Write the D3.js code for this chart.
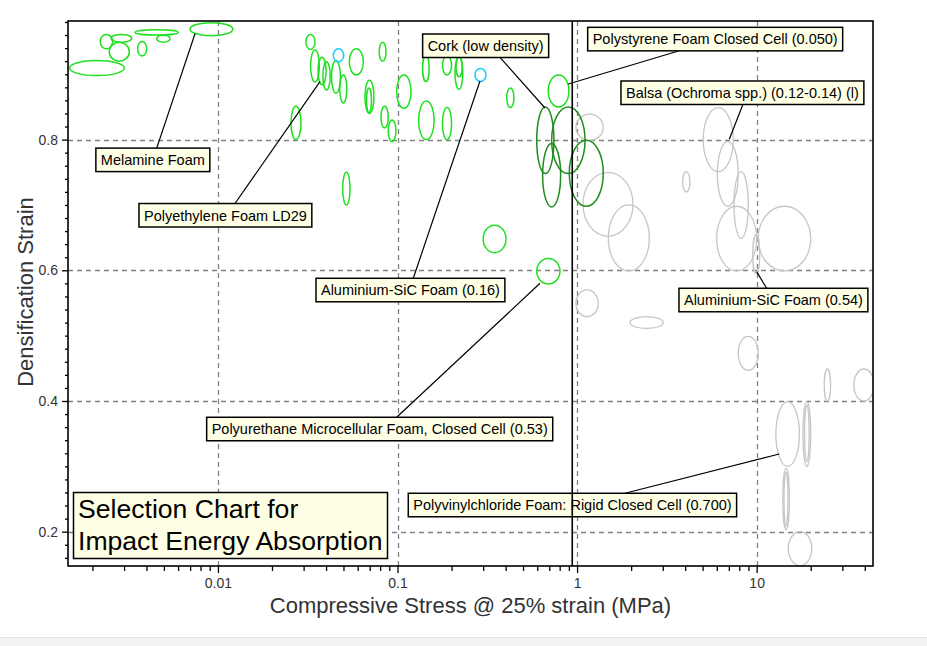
<!DOCTYPE html>
<html><head><meta charset="utf-8">
<script src="https://cdn.jsdelivr.net/npm/d3@7"></script>
<style>
html,body{margin:0;padding:0;background:#fff;overflow:hidden;}
svg{display:block;font-family:"Liberation Sans",Arial,sans-serif;}
</style></head><body>
<svg id="c" width="927" height="646"></svg>
<script>
// ---------- DATA ----------
const xTickValues = [0.01, 0.1, 1, 10];
const xTickLabels = ["0.01", "0.1", "1", "10"];
const yTickValues = [0.2, 0.4, 0.6, 0.8];
const yTickLabels = ["0.2", "0.4", "0.6", "0.8"];
const xDomain = [0.001462, 44.46];
const yDomain = [0.1475, 0.9815];
const selectionStress = 0.94;
const xTitle = "Compressive Stress @ 25% strain (MPa)";
const yTitle = "Densification Strain";
const chartTitle = ["Selection Chart for", "Impact Energy Absorption"];

// each entry: [stressLow, stressHigh, strainLow, strainHigh]
const grayMaterials = [
  [0.986, 1.399, 0.799, 0.839],
  [1.079, 2.048, 0.652, 0.750],
  [1.492, 2.525, 0.599, 0.700],
  [3.87, 4.25, 0.720, 0.751],
  [5.04, 7.41, 0.751, 0.849],
  [6.04, 7.90, 0.698, 0.797],
  [7.48, 8.98, 0.649, 0.751],
  [5.99, 10.0, 0.599, 0.698],
  [9.51, 10.4, 0.595, 0.654],
  [10.2, 20.0, 0.599, 0.698],
  [0.986, 1.312, 0.529, 0.570],
  [1.97, 3.02, 0.511, 0.529],
  [7.90, 10.2, 0.447, 0.499],
  [23.8, 25.8, 0.400, 0.449],
  [34.8, 45.0, 0.400, 0.449],
  [12.8, 17.3, 0.300, 0.399],
  [18.1, 20.0, 0.300, 0.399],
  [18.5, 19.6, 0.307, 0.394],
  [14.0, 15.2, 0.203, 0.297],
  [14.2, 14.95, 0.209, 0.291],
  [15.0, 20.3, 0.148, 0.200]
];
const greenFoams = [
  [0.00149, 0.00301, 0.898, 0.921],
  [0.00248, 0.00321, 0.920, 0.949],
  [0.00221, 0.00259, 0.939, 0.961],
  [0.00254, 0.00331, 0.949, 0.961],
  [0.00357, 0.00401, 0.928, 0.950],
  [0.00345, 0.00601, 0.960, 0.968],
  [0.00456, 0.00541, 0.949, 0.960],
  [0.00699, 0.0121, 0.959, 0.979],
  [0.0309, 0.0347, 0.938, 0.961],
  [0.0328, 0.0367, 0.888, 0.937],
  [0.0361, 0.0400, 0.884, 0.926],
  [0.0384, 0.0422, 0.876, 0.919],
  [0.0429, 0.0481, 0.871, 0.921],
  [0.0477, 0.0522, 0.856, 0.899],
  [0.0539, 0.0645, 0.899, 0.939],
  [0.0791, 0.0863, 0.920, 0.949],
  [0.0659, 0.0739, 0.840, 0.891],
  [0.0672, 0.0716, 0.841, 0.879],
  [0.0809, 0.0888, 0.818, 0.851],
  [0.0888, 0.0980, 0.797, 0.830],
  [0.0255, 0.0290, 0.800, 0.851],
  [0.0989, 0.119, 0.848, 0.899],
  [0.131, 0.160, 0.800, 0.859],
  [0.178, 0.200, 0.800, 0.849],
  [0.138, 0.150, 0.889, 0.929],
  [0.178, 0.200, 0.899, 0.928],
  [0.209, 0.231, 0.877, 0.927],
  [0.212, 0.229, 0.896, 0.926],
  [0.406, 0.445, 0.849, 0.879],
  [0.300, 0.402, 0.627, 0.669],
  [0.596, 0.803, 0.579, 0.618],
  [0.691, 0.901, 0.850, 0.899],
  [0.0495, 0.0544, 0.700, 0.750]
];
const corkFoams = [
  [0.596, 0.743, 0.748, 0.850],
  [0.643, 0.810, 0.697, 0.794],
  [0.722, 1.107, 0.748, 0.850],
  [0.905, 1.399, 0.698, 0.799]
];
const cyanFoams = [
  [0.0439, 0.0501, 0.919, 0.939],
  [0.270, 0.311, 0.889, 0.909]
];

// label text, box corner (stress, strain), leader from (stress, strain), leader to (stress, strain)
const labelTexts = [
  "Melamine Foam",
  "Polyethylene Foam LD29",
  "Cork (low density)",
  "Polystyrene Foam Closed Cell (0.050)",
  "Balsa (Ochroma spp.) (0.12-0.14) (l)",
  "Aluminium-SiC Foam (0.16)",
  "Aluminium-SiC Foam (0.54)",
  "Polyurethane Microcellular Foam, Closed Cell (0.53)",
  "Polyvinylchloride Foam: Rigid Closed Cell (0.700)"
];
const labelCorners = [
  [0.00209, 0.787], [0.003633, 0.7022], [0.1380, 0.9616], [1.1455, 0.9718],
  [1.7557, 0.8897], [0.03515, 0.5878], [3.694, 0.5725], [0.008653, 0.3751], [0.1148, 0.2588]
];
const leaderFrom = [
  [0.00456, 0.787], [0.01244, 0.7022], [0.3721, 0.9259], [3.709, 0.9360],
  [8.362, 0.8529], [0.1224, 0.5878], [11.37, 0.5725], [0.09893, 0.3751], [1.848, 0.2588]
];
const leaderTo = [
  [0.00745, 0.962], [0.0370, 0.8886], [0.6627, 0.8484], [0.8933, 0.8851],
  [7.041, 0.8005], [0.2879, 0.8897], [10.0, 0.5979], [0.6215, 0.5801], [13.37, 0.3189]
];

// ---------- DRAW ----------
const svg = d3.select("#c");
const X0 = 68, X1 = 873, Y0 = 21, Y1 = 566;
const x = d3.scaleLog().domain(xDomain).range([X0, X1]);
const y = d3.scaleLinear().domain(yDomain).range([Y1, Y0]);

svg.append("rect").attr("width", 927).attr("height", 646).attr("fill", "#fff");
svg.append("rect").attr("x", 0).attr("y", 637).attr("width", 927).attr("height", 9).attr("fill", "#f2f2f2");
svg.append("line").attr("x1", 0).attr("x2", 927).attr("y1", 637.5).attr("y2", 637.5).attr("stroke", "#e2e2e2");

svg.append("defs").append("clipPath").attr("id", "clip")
  .append("rect").attr("x", X0).attr("y", Y0).attr("width", X1 - X0).attr("height", Y1 - Y0);

// grid
const grid = svg.append("g").attr("stroke", "#808080").attr("stroke-width", 1.3).attr("stroke-dasharray", "5,4");
grid.selectAll(".gx").data(xTickValues).join("line")
  .attr("x1", d => Math.round(x(d)) + 0.5).attr("x2", d => Math.round(x(d)) + 0.5).attr("y1", Y0).attr("y2", Y1);
grid.selectAll(".gy").data(yTickValues).join("line")
  .attr("y1", d => Math.round(y(d)) + 0.5).attr("y2", d => Math.round(y(d)) + 0.5).attr("x1", X0).attr("x2", X1);

// ellipses
const plot = svg.append("g").attr("clip-path", "url(#clip)");
function drawSet(data, color, w) {
  plot.append("g").selectAll("ellipse").data(data).join("ellipse")
    .attr("cx", d => (x(d[0]) + x(d[1])) / 2)
    .attr("cy", d => (y(d[2]) + y(d[3])) / 2)
    .attr("rx", d => Math.abs(x(d[1]) - x(d[0])) / 2)
    .attr("ry", d => Math.abs(y(d[3]) - y(d[2])) / 2)
    .attr("fill", "none").attr("stroke", color).attr("stroke-width", w);
}
drawSet(grayMaterials, "#c6c6c6", 1.3);
drawSet(greenFoams, "#1fe01f", 1.5);
drawSet(corkFoams, "#1e8c1e", 1.5);
drawSet(cyanFoams, "#1ecbff", 1.5);

// leader lines
svg.append("g").selectAll("line").data(labelTexts).join("line")
  .attr("x1", (d, i) => x(leaderFrom[i][0])).attr("y1", (d, i) => y(leaderFrom[i][1]))
  .attr("x2", (d, i) => x(leaderTo[i][0])).attr("y2", (d, i) => y(leaderTo[i][1]))
  .attr("stroke", "#000").attr("stroke-width", 1.2);

// label boxes
const lg = svg.append("g");
labelTexts.forEach((t, i) => {
  const g = lg.append("g");
  const bx = x(labelCorners[i][0]), by = y(labelCorners[i][1]);
  const r = g.append("rect");
  const tx = g.append("text").attr("x", bx + 5).attr("y", by + 17)
    .attr("font-size", 14.5).attr("fill", "#000").text(t);
  const w = tx.node().getComputedTextLength();
  r.attr("x", bx).attr("y", by).attr("width", w + 10).attr("height", 23.5)
    .attr("fill", "#ffffe6").attr("stroke", "#000").attr("stroke-width", 1.5);
});

// selection line
svg.append("line").attr("x1", x(selectionStress)).attr("x2", x(selectionStress))
  .attr("y1", Y0).attr("y2", Y1).attr("stroke", "#000").attr("stroke-width", 1.6);

// title box
const tg = svg.append("g");
tg.append("rect").attr("x", 73.5).attr("y", 492.5).attr("width", 314).attr("height", 66)
  .attr("fill", "#ffffe6").attr("stroke", "#000").attr("stroke-width", 1.5);
tg.selectAll("text").data(chartTitle).join("text")
  .attr("x", 78).attr("y", (d, i) => 518 + i * 32)
  .attr("font-size", 26.6).attr("fill", "#000").text(d => d);

// frame
svg.append("rect").attr("x", X0).attr("y", Y0).attr("width", X1 - X0).attr("height", Y1 - Y0)
  .attr("fill", "none").attr("stroke", "#000").attr("stroke-width", 1.6);

// axes
const xMinor = [];
[0.001, 0.01, 0.1, 1, 10].forEach(dec => d3.range(2, 10).forEach(k => { const v = k * dec; if (v > xDomain[0] && v < xDomain[1]) xMinor.push(v); }));
const yMinor = d3.range(8, 50).map(k => k * 0.02).filter(v => v > yDomain[0] && v < yDomain[1] && !yTickValues.some(t => Math.abs(t - v) < 1e-6));

function styleAxis(g) {
  g.select(".domain").remove();
  g.selectAll("line").attr("stroke", "#000").attr("stroke-width", 1.3);
  g.selectAll("text").attr("font-size", 14).attr("fill", "#333").attr("font-family", "Liberation Sans, Arial, sans-serif");
}
svg.append("g").attr("transform", `translate(0,${Y1})`)
  .call(d3.axisBottom(x).tickValues(xMinor).tickFormat("").tickSize(5).tickSizeOuter(0)).call(styleAxis);
svg.append("g").attr("transform", `translate(0,${Y1})`)
  .call(d3.axisBottom(x).tickValues(xTickValues).tickFormat((d, i) => xTickLabels[i]).tickSize(7).tickPadding(5).tickSizeOuter(0)).call(styleAxis);
svg.append("g").attr("transform", `translate(${X0},0)`)
  .call(d3.axisLeft(y).tickValues(yMinor).tickFormat("").tickSize(3).tickSizeOuter(0)).call(styleAxis);
svg.append("g").attr("transform", `translate(${X0},0)`)
  .call(d3.axisLeft(y).tickValues(yTickValues).tickFormat((d, i) => yTickLabels[i]).tickSize(6).tickPadding(4).tickSizeOuter(0)).call(styleAxis);

// axis titles
svg.append("text").attr("x", (X0 + X1) / 2).attr("y", 613).attr("text-anchor", "middle")
  .attr("font-size", 22).attr("fill", "#333").text(xTitle);
svg.append("text").attr("transform", "translate(33,292) rotate(-90)").attr("text-anchor", "middle")
  .attr("font-size", 22).attr("fill", "#333").text(yTitle);
</script>
</body></html>
